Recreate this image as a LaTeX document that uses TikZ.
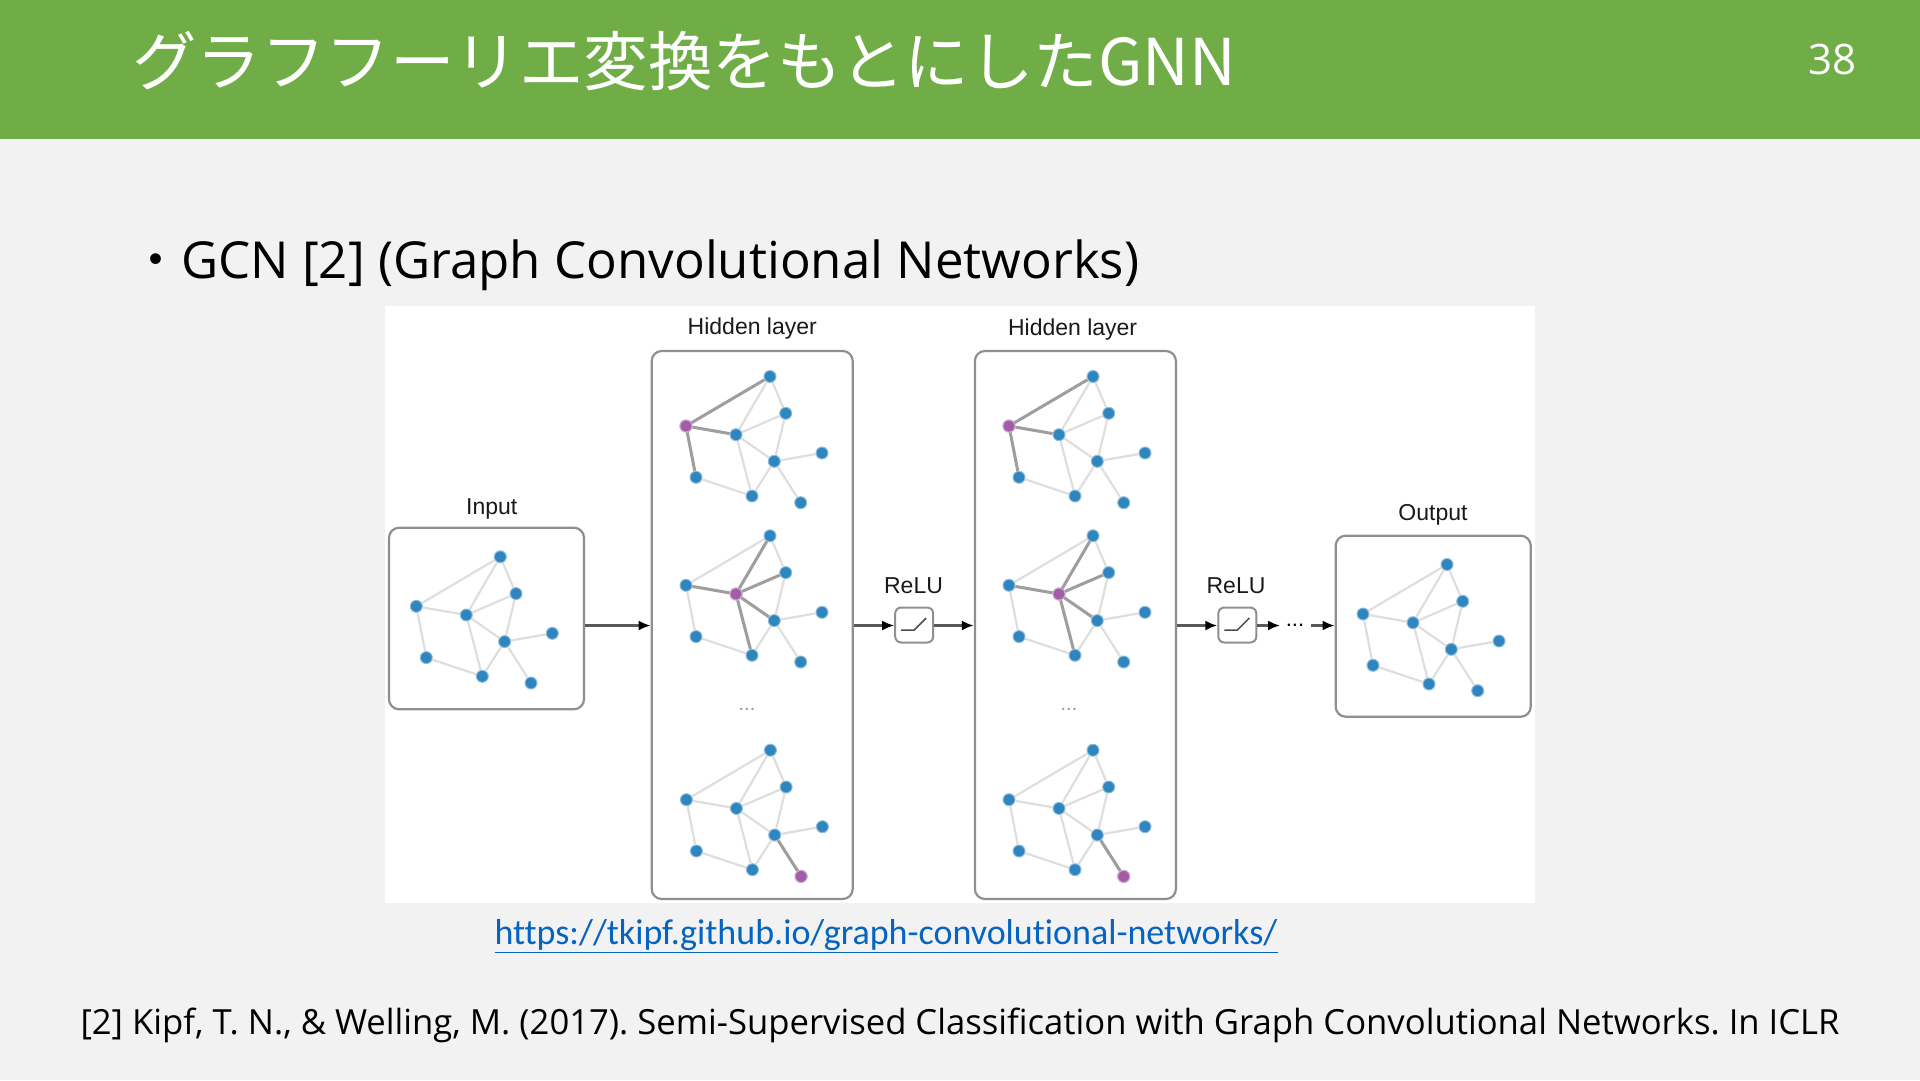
\documentclass[tikz,border=0pt]{standalone}
\usepackage{fontspec}
\usetikzlibrary{arrows.meta}
\setmainfont{Liberation Sans}
\newfontfamily\jpfont{Noto Sans CJK JP}
\newfontfamily\uifont{Open Sans}
\newfontfamily\linkfont[Ligatures=NoCommon]{Carlito}
\definecolor{headgreen}{HTML}{70AD47}
\definecolor{slidegray}{HTML}{F2F2F2}
\definecolor{linkblue}{HTML}{0563C1}
\definecolor{nodeblue}{HTML}{2F86BF}
\definecolor{nodepurple}{HTML}{A45BA8}
\definecolor{edgelight}{HTML}{E0DDDD}
\definecolor{edgedark}{HTML}{9F9D9D}
\definecolor{boxgray}{HTML}{8F8F8F}
\tikzset{
  panelbox/.style={draw=boxgray, line width=2.2pt, rounded corners=10pt, fill=white, inner sep=0pt},
  relubox/.style={panelbox, line width=2pt, rounded corners=6pt, minimum width=38pt, minimum height=35pt},
  caption/.style={inner sep=0pt, font=\fontsize{23}{26}\selectfont, text=black!90},
  gnode/.style={circle, fill=nodeblue, draw=nodeblue!55, line width=1pt, inner sep=0pt, minimum size=12pt},
  gedge/.style={edgelight, line width=2.2pt},
  gedgedark/.style={edgedark, line width=3pt},
  flow/.style={-{Latex[length=12pt,width=10pt,color=black]}, line width=2.2pt, black!65},
  smalldots/.style={inner sep=0pt, text=gray!80, font=\fontsize{20}{22}\selectfont}
}
% #1 name, #2 origin
\newcommand{\plaingraph}[2]{
  \begin{scope}[shift={#2}]
    \foreach \n/\px/\py in {a/84/-49.5, b/99.7/-12.7, c/0/0, d/50/8.7, e/88.3/35.3, f/136/27, g/10/51.3, h/66/70, i/114.7/76.7}
      \node[gnode] (#1\n) at (\px,\py) {};
    \foreach \s/\t in {a/b, a/c, a/d, b/d, b/e, c/d, c/g, d/e, d/h, e/f, e/h, e/i, g/h}
      \draw[gedge] (#1\s) -- (#1\t);
  \end{scope}
}
% #3 purple node, #4 dark edges
\newcommand{\gcngraph}[4]{
  \plaingraph{#1}{#2}
  \foreach \s/\t in {#4}
    \draw[gedgedark] (#1\s) -- (#1\t);
  \node[gnode, fill=nodepurple, draw=nodepurple!55] (#1mark) at (#1#3) {};
}
\begin{document}
\frenchspacing
\begin{tikzpicture}[x=1pt, y=-1pt]
  \useasboundingbox (0,0) rectangle (1920,1080);
  \fill[slidegray] (0,0) rectangle (1920,1080);
  \fill[headgreen] (0,0) rectangle (1920,138.5);

  % title and page number
  \node[anchor=west, inner sep=0pt, text=white, font=\jpfont\fontsize{64.5}{70}\selectfont] (title) at (132,61) {グラフフーリエ変換をもとにしたGNN};
  \node[inner sep=0pt, text=white, font=\uifont\fontsize{42}{48}\selectfont] (pagenum) at (1832,59) {38};

  \node[anchor=west, inner sep=0pt, font=\uifont\fontsize{51}{56}\selectfont] (bullet) at (130,265) {{\jpfont ・}GCN [2] (Graph Convolutional Networks)};

  % white panel of the figure
  \fill[white] (385,305.5) rectangle (1534.5,902.5);

  \node[panelbox, minimum width=195pt, minimum height=181.5pt] (inputbox) at (486.5,618.5) {};
  \node[panelbox, minimum width=201pt, minimum height=548pt] (hiddena) at (752.2,625) {};
  \node[panelbox, minimum width=201pt, minimum height=548pt] (hiddenb) at (1075.4,625) {};
  \node[panelbox, minimum width=195pt, minimum height=181pt] (outputbox) at (1433.2,626.2) {};
  \node[relubox] (relua) at (914.2,625) {};
  \node[relubox] (relub) at (1237.3,625) {};

  \node[caption] (inputlabel) at (491.7,508.7) {Input};
  \node[caption] (hiddenlabela) at (752.3,329) {Hidden layer};
  \node[caption] (hiddenlabelb) at (1072.6,330) {Hidden layer};
  \node[caption] (relulabela) at (913.5,585.7) {ReLU};
  \node[caption] (relulabelb) at (1236,585.7) {ReLU};
  \node[caption] (outputlabel) at (1433,515) {Output};

  % graphs
  \plaingraph{in}{(416.3,606.3)}
  \gcngraph{ha}{(686,426)}{c}{c/a, c/d, c/g}
  \gcngraph{hb}{(686,585.3)}{d}{d/a, d/b, d/c, d/e, d/h}
  \gcngraph{hc}{(686.4,799.7)}{i}{e/i}
  \gcngraph{ka}{(1009,426)}{c}{c/a, c/d, c/g}
  \gcngraph{kb}{(1009,585.3)}{d}{d/a, d/b, d/c, d/e, d/h}
  \gcngraph{kc}{(1009,799.7)}{i}{e/i}
  \plaingraph{out}{(1363,614)}

  \node[smalldots] (moredotsa) at (747,709) {...};
  \node[smalldots] (moredotsb) at (1069,709) {...};
  \node[inner sep=0pt, font=\fontsize{22}{24}\selectfont] (flowdots) at (1295,625.5) {...};

  % arrows
  \coordinate (flowaxis) at (0,625.5);
  \coordinate (dotsleft) at (1280,625.5);
  \coordinate (dotsright) at (1311,625.5);
  \draw[flow] (inputbox.east |- flowaxis) -- (hiddena.west |- flowaxis);
  \draw[flow] (hiddena.east |- flowaxis) -- (relua.west |- flowaxis);
  \draw[flow] (relua.east |- flowaxis) -- (hiddenb.west |- flowaxis);
  \draw[flow] (hiddenb.east |- flowaxis) -- (relub.west |- flowaxis);
  \draw[flow] (relub.east |- flowaxis) -- (dotsleft);
  \draw[flow] (dotsright) -- (outputbox.west |- flowaxis);

  % relu icons
  \draw[black!70, line width=1.5pt] ([shift={(-13,5)}]relua.center) -- ++(13,0) -- ++(12,-12);
  \draw[black!70, line width=1.5pt] ([shift={(-13,5)}]relub.center) -- ++(13,0) -- ++(12,-12);

  \node[inner sep=0pt, text=linkblue, font=\linkfont\fontsize{36}{40}\selectfont] (urllink) at (886,936.5) {\underline{https://tkipf.github.io/graph-convolutional-networks/}};
  \node[inner sep=0pt, font=\uifont\fontsize{34.65}{40}\selectfont] (citation) at (960,1025.5) {[2] Kipf, T. N., \& Welling, M. (2017). Semi-Supervised Classification with Graph Convolutional Networks. In ICLR};
\end{tikzpicture}
\end{document}
